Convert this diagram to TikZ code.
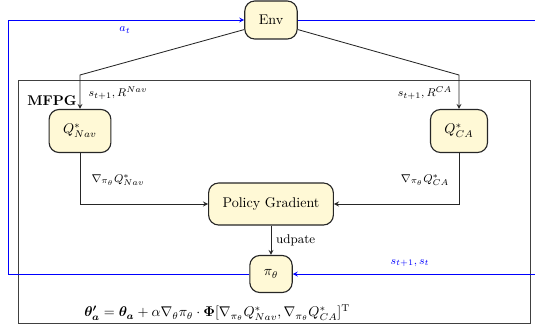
\documentclass[tikz,border=0pt]{standalone}
\usepackage{amsmath}
\usepackage{amssymb}
\usepackage{bm}
\usepackage{tikz}
\usetikzlibrary{fit,positioning}
\usetikzlibrary{arrows}
\definecolor{boxfill}{RGB}{255,249,214}

\begin{document}
\begin{tikzpicture}
\tikzstyle{main}=[rectangle, rounded corners=2.5mm, thick, draw=black!85, fill=boxfill, inner xsep=3.5mm, minimum height=10mm]
\tikzstyle{connect}=[-stealth, semithick, draw=black!85]
\tikzstyle{loop}=[-stealth, semithick, draw=blue]
\tikzstyle{lbl}=[font=\footnotesize]
  \useasboundingbox (0,0) rectangle (13.375,8.25);
  % outer box
  \node[rectangle, draw=black!75, semithick, minimum width=12.8cm, minimum height=6.075cm] (mfpg) at (6.85,3.2125) {};
  \node[font=\bfseries] (mfpgl) at (1.3,5.725) {MFPG};

  \node[main, minimum height=9.5mm] (env) at (6.775,7.75) {Env};
  \node[main, minimum height=10.75mm] (qnav) at (2.0,4.975) {$Q^*_{Nav}$};
  \node[main, minimum height=10.75mm] (qca) at (11.475,4.975) {$Q^*_{CA}$};
  \node[main, minimum height=10.5mm] (pg) at (6.775,3.15) {Policy Gradient};
  \node[main, minimum height=9.25mm] (pi) at (6.775,1.4) {$\pi_\theta$};

  \coordinate (cl) at (2.0,6.375);
  \coordinate (cr) at (11.475,6.375);
  \draw[connect] (env.south west) ++(0,0.25) -- (cl) -- (qnav);
  \draw[connect] (env.south east) ++(0,0.25) -- (cr) -- (qca);
  \draw[connect] (qnav) |- (pg);
  \draw[connect] (qca) |- (pg);
  \draw[connect] (pg) -- node[font=\small, right] (upd) {udpate} (pi);

  \node[lbl] (snav) at (2.95,5.925) {$s_{t+1},R^{Nav}$};
  \node[lbl] (sca) at (10.625,5.925) {$s_{t+1},R^{CA}$};
  \node[lbl] (gnav) at (2.95,3.75) {$\nabla_{\pi_\theta}Q^*_{Nav}$};
  \node[lbl] (gca) at (10.625,3.75) {$\nabla_{\pi_\theta}Q^*_{CA}$};

  % feedback loop
  \coordinate (bl) at (0.2,1.4);
  \coordinate (tl) at (0.2,7.75);
  \coordinate (tr) at (13.375,7.75);
  \coordinate (br) at (13.375,1.4);
  \draw[semithick, blue] (pi) -- (bl) -- (tl);
  \draw[loop] (tl) -- (env);
  \draw[semithick, blue] (env) -- (tr);
  \draw[loop] (br) -- (pi);
  \node[lbl, text=blue] (at) at (3.125,7.5) {$a_t$};
  \node[lbl, text=blue] (st) at (10.25,1.675) {$s_{t+1},s_t$};

  \node (eq) at (5.43,0.425) {$\bm{\theta'_a}=\bm{\theta_a}+\alpha\nabla_\theta\pi_\theta\cdot\bm{\Phi}[\nabla_{\pi_\theta}Q^*_{Nav},\nabla_{\pi_\theta}Q^*_{CA}]^{\mathrm{T}}$};
\end{tikzpicture}
\end{document}
